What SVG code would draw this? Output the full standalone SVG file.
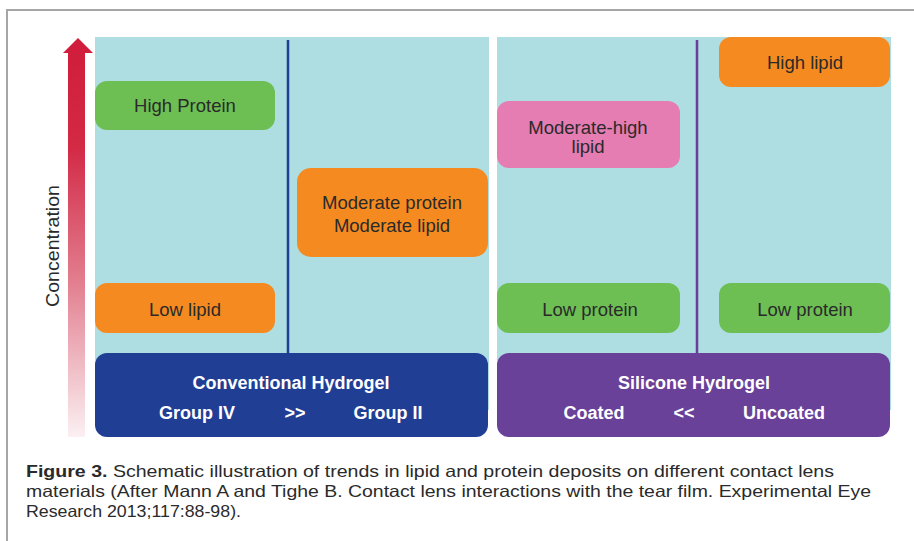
<svg xmlns="http://www.w3.org/2000/svg" width="914" height="541" viewBox="0 0 914 541">
<defs>
<linearGradient id="arrowGrad" x1="0" y1="0" x2="0" y2="1">
<stop offset="0" stop-color="#d01e3c"/>
<stop offset="0.25" stop-color="#d32a46"/>
<stop offset="0.6" stop-color="#e27f90"/>
<stop offset="1" stop-color="#fbf0f2"/>
</linearGradient>
<style>
.panel{fill:#aedde2}
.box{stroke:none}
.green{fill:#6dbf54}
.orange{fill:#f58b20}
.pink{fill:#e57cb2}
.lbl{font-family:"Liberation Sans",Arial,sans-serif;font-size:18.5px;fill:#2a2a2a;text-anchor:middle}
.hdr{font-family:"Liberation Sans",Arial,sans-serif;font-size:18px;font-weight:bold;fill:#ffffff;text-anchor:middle}
.cap{font-family:"Liberation Sans",Arial,sans-serif;font-size:16.5px;fill:#2a2a2a}
</style>
</defs>
<rect x="0" y="0" width="914" height="541" fill="#ffffff"/>
<!-- frame -->
<path d="M7,541 V10 H914" fill="none" stroke="#a6a6a6" stroke-width="2"/>

<!-- panels -->
<rect class="panel" x="95" y="37" width="394" height="373"/>
<rect class="panel" x="497" y="37" width="394" height="373"/>

<!-- concentration axis -->
<g id="axis">
<rect x="68" y="52" width="17" height="385" fill="url(#arrowGrad)"/>
<polygon points="63,53 78,38 93,53" fill="#d01e3c"/>
<text transform="translate(59,246) rotate(-90)" font-family="&quot;Liberation Sans&quot;,Arial,sans-serif" font-size="19" fill="#2a2a2a" text-anchor="middle" textLength="122" lengthAdjust="spacingAndGlyphs">Concentration</text>
</g>

<!-- connectors / dividers -->
<g id="connectors">
<line x1="288" y1="40" x2="288" y2="353" stroke="#1e3f94" stroke-width="2.5"/>
<line x1="697" y1="40" x2="697" y2="353" stroke="#6a3f98" stroke-width="2.5"/>
</g>

<g id="high-protein">
<rect class="box green" x="95" y="81" width="180" height="49" rx="12"/>
<text class="lbl" x="185" y="112">High Protein</text>
</g>
<g id="moderate-protein-lipid">
<rect class="box orange" x="297" y="168" width="191" height="89" rx="14"/>
<text class="lbl" x="392" y="209">Moderate protein</text>
<text class="lbl" x="392" y="232">Moderate lipid</text>
</g>
<g id="low-lipid">
<rect class="box orange" x="95" y="283" width="180" height="50" rx="12"/>
<text class="lbl" x="185" y="316">Low lipid</text>
</g>
<g id="conventional-hydrogel">
<rect x="95" y="353" width="393" height="84" rx="12" fill="#213e95"/>
<text class="hdr" x="291" y="389">Conventional Hydrogel</text>
<text class="hdr" x="197" y="419">Group IV</text>
<text class="hdr" x="295" y="419">&gt;&gt;</text>
<text class="hdr" x="388" y="419">Group II</text>
</g>

<g id="moderate-high-lipid">
<rect class="box pink" x="497" y="101" width="183" height="67" rx="12"/>
<text class="lbl" x="588" y="134">Moderate-high</text>
<text class="lbl" x="588" y="153">lipid</text>
</g>
<g id="high-lipid">
<rect class="box orange" x="719" y="37" width="171" height="50" rx="12"/>
<text class="lbl" x="805" y="69">High lipid</text>
</g>
<g id="low-protein-coated">
<rect class="box green" x="497" y="283" width="183" height="50" rx="12"/>
<text class="lbl" x="590" y="316">Low protein</text>
</g>
<g id="low-protein-uncoated">
<rect class="box green" x="719" y="283" width="171" height="50" rx="12"/>
<text class="lbl" x="805" y="316">Low protein</text>
</g>
<g id="silicone-hydrogel">
<rect x="497" y="353" width="393" height="84" rx="12" fill="#694199"/>
<text class="hdr" x="694" y="389">Silicone Hydrogel</text>
<text class="hdr" x="594" y="419">Coated</text>
<text class="hdr" x="684" y="419">&lt;&lt;</text>
<text class="hdr" x="784" y="419">Uncoated</text>
</g>

<!-- caption -->
<g id="caption">
<text class="cap" x="26" y="477" textLength="808" lengthAdjust="spacingAndGlyphs"><tspan font-weight="bold">Figure 3.</tspan> Schematic illustration of trends in lipid and protein deposits on different contact lens</text>
<text class="cap" x="26" y="497" textLength="845" lengthAdjust="spacingAndGlyphs">materials (After Mann A and Tighe B. Contact lens interactions with the tear film. Experimental Eye</text>
<text class="cap" x="26" y="517" textLength="215" lengthAdjust="spacingAndGlyphs">Research 2013;117:88-98).</text>
</g>
</svg>
